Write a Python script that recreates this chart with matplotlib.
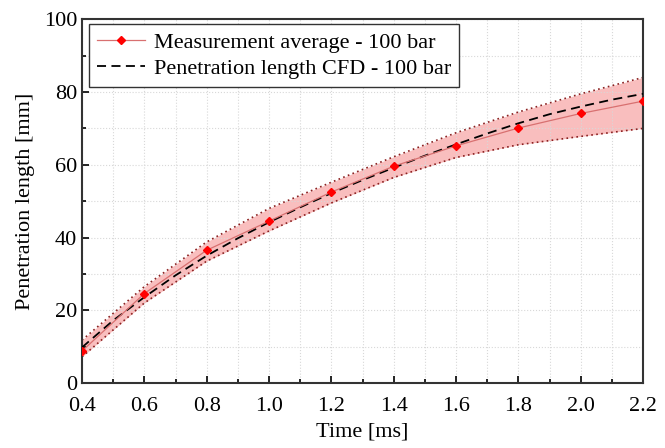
import numpy as np
import matplotlib.pyplot as plt
from matplotlib.ticker import MultipleLocator

plt.rcParams['font.family'] = ['Liberation Serif', 'DejaVu Serif']
plt.rcParams['mathtext.fontset'] = 'stix'

# measurement (red diamonds) and its spread band
time = [0.4, 0.6, 0.8, 1.0, 1.2, 1.4, 1.6, 1.8, 2.0, 2.2]
meas_avg = [8.8, 24.6, 36.5, 44.5, 52.5, 59.6, 65.2, 70.1, 74.1, 77.5]
meas_upper = [11.8, 26.5, 38.8, 48.0, 55.2, 62.2, 68.8, 74.5, 79.5, 84.0]
meas_lower = [7.2, 22.0, 33.5, 41.8, 49.5, 56.5, 62.0, 65.5, 67.8, 70.0]

# CFD penetration length (dashed black)
cfd_time = [0.4, 0.5, 0.6, 0.7, 0.8, 0.9, 1.0, 1.1, 1.2, 1.3, 1.4, 1.5,
            1.6, 1.7, 1.8, 1.9, 2.0, 2.1, 2.2]
cfd_len = [9.8, 17.2, 23.6, 29.6, 35.0, 39.8, 44.2, 48.3, 52.2, 55.8, 59.2,
           62.5, 65.6, 68.6, 71.4, 73.9, 76.0, 77.9, 79.5]

fig = plt.figure(figsize=(6.65, 4.48), dpi=100)
ax = fig.add_axes([0.1233, 0.145, 0.8437, 0.812])

ax.fill_between(time, meas_lower, meas_upper, color='#f7a8a8', alpha=0.75,
                lw=0, zorder=1)
ax.plot(time, meas_upper, ls=(0, (1, 2)), color='#8b2020', lw=1.2, zorder=2)
ax.plot(time, meas_lower, ls=(0, (1, 2)), color='#8b2020', lw=1.2, zorder=2)
ax.plot(time, meas_avg, color='#d87070', lw=0.9, marker='D', ms=4,
        mfc='red', mec='red', zorder=4,
        label='Measurement average - 100 bar')
ax.plot(cfd_time, cfd_len, color='black', ls=(0, (5, 3)), lw=1.3, zorder=3,
        label='Penetration length CFD - 100 bar')

ax.set_xlim(0.4, 2.2)
ax.set_ylim(0, 100)
ax.xaxis.set_major_locator(MultipleLocator(0.2))
ax.xaxis.set_minor_locator(MultipleLocator(0.1))
ax.yaxis.set_major_locator(MultipleLocator(20))
ax.yaxis.set_minor_locator(MultipleLocator(10))
ax.xaxis.set_major_formatter(lambda v, p: '{:.1f}'.format(v))
ax.grid(which='both', color='#d8d8d8', ls=':', lw=0.8, zorder=0)
ax.tick_params(which='both', direction='in', labelsize=16, width=1.2)
ax.tick_params(which='major', length=5)
ax.tick_params(which='minor', length=3)
ax.tick_params(axis='x', pad=10)
for s in ax.spines.values():
    s.set_linewidth(1.5)
    s.set_color('#333333')

ax.set_xlabel('Time [ms]', fontsize=16, labelpad=5)
ax.set_ylabel('Penetration length [mm]', fontsize=16, labelpad=6)

leg = ax.legend(loc='upper left', bbox_to_anchor=(0.012, 0.986), fontsize=16,
                frameon=True, fancybox=False, edgecolor='#333333',
                framealpha=1, handlelength=2.2, borderpad=0.35,
                labelspacing=0.25, handletextpad=0.4, borderaxespad=0)
leg.get_frame().set_linewidth(1.0)

fig.savefig('out.png', dpi=100)
